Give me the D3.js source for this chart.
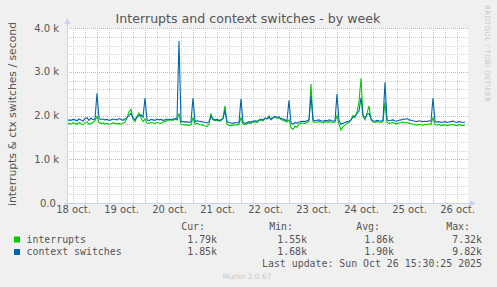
<!DOCTYPE html>
<html>
<head>
<meta charset="utf-8">
<script src="https://cdn.jsdelivr.net/npm/d3@7"></script>
<style>
  html, body { margin: 0; padding: 0; background: #f0f0f0; }
  svg { display: block; }
</style>
</head>
<body>
<div class="chartDiv"></div>
<script>
"use strict";

//
/* Data: */
//

// hourly samples, first one at 18 oct 09:00 (hours counted from 18 oct 00:00)
var startHour = 9;

var dayLabels = ["18 oct.", "19 oct.", "20 oct.", "21 oct.", "22 oct.", "23 oct.", "24 oct.", "25 oct.", "26 oct."];
var yTickValues = [0, 1000, 2000, 3000, 4000];
var yTickLabels = ["0.0\u00a0", "1.0 k", "2.0 k", "3.0 k", "4.0 k"];

// interrupts, in thousands / second
var interrupts = [
    1.81,1.82,1.80,1.83,1.82,1.80,1.84,1.81,1.79,1.83,1.86,1.80,1.82,1.84,1.88,
    1.98,
    1.84,1.82,1.83,1.81,1.82,1.80,1.81,1.83,1.82,1.81,1.82,1.80,1.82,1.85,1.95,
    2.08,2.14,1.92,1.86,1.98,2.06,1.95,1.86,
    1.92,
    1.83,1.82,1.84,1.83,1.82,1.84,1.83,1.82,1.85,1.86,1.88,1.90,1.91,1.89,1.92,1.90,
    2.05,
    1.80,1.79,1.78,1.79,1.77,1.79,
    1.95,
    1.80,1.82,1.80,1.79,1.78,1.76,1.75,1.80,
    2.05,1.90,1.88,1.89,1.87,1.88,1.95,
    2.22,
    1.80,1.78,1.77,1.78,1.79,1.78,1.80,
    1.95,
    1.80,1.79,1.81,1.83,1.82,1.85,1.86,1.84,1.88,
    1.90,1.88,1.93,1.92,1.99,1.90,1.94,1.97,1.93,1.95,1.91,1.89,1.87,1.85,
    1.90,
    1.72,1.68,1.76,1.73,1.80,1.82,1.83,1.82,1.84,1.87,
    2.72,
    1.86,1.84,1.85,1.86,1.85,1.83,1.86,1.85,1.86,1.85,1.84,1.85,
    2.00,
    1.80,1.67,1.74,1.78,1.82,1.84,1.90,2.00,1.95,2.09,2.30,
    2.85,
    1.98,1.90,2.05,2.22,1.90,
    1.85,1.84,1.86,1.85,1.84,1.86,
    2.30,
    1.84,1.82,1.83,1.84,1.82,1.81,1.83,1.84,1.85,1.83,1.84,1.82,1.81,1.80,1.79,1.78,1.80,1.79,1.78,1.80,1.79,1.81,1.80,
    1.95,
    1.79,1.78,1.80,1.77,1.78,1.79,1.77,1.78,1.79,1.80,1.78,1.77,1.79,1.78,1.77,1.79
];

// context switches, in thousands / second
var contextSwitches = [
    1.88,1.90,1.89,1.91,1.90,1.88,1.92,1.90,1.87,1.93,1.95,1.89,1.94,1.90,1.92,
    2.51,
    1.93,1.91,1.92,1.90,1.91,1.89,1.90,1.92,1.91,1.90,1.93,1.91,1.89,1.92,1.95,
    2.00,2.05,1.95,1.90,1.96,2.00,2.02,1.96,
    2.40,
    1.90,1.88,1.91,1.90,1.89,1.92,1.90,1.91,1.89,1.90,1.92,1.91,1.90,1.92,1.93,1.91,
    3.70,
    1.87,1.86,1.85,1.86,1.84,1.86,
    2.40,
    1.86,1.88,1.87,1.86,1.85,1.84,1.83,1.86,
    1.98,1.92,1.90,1.91,1.89,1.90,1.93,
    2.12,
    1.86,1.84,1.83,1.82,1.84,1.83,1.85,
    2.38,
    1.84,1.82,1.84,1.86,1.85,1.87,1.88,1.87,1.90,
    1.92,1.90,1.94,1.93,1.96,1.92,1.95,1.98,1.96,1.97,1.93,1.92,1.90,1.88,
    2.35,
    1.83,1.80,1.84,1.82,1.85,1.86,1.87,1.86,1.88,1.90,
    2.45,
    1.90,1.88,1.89,1.90,1.88,1.87,1.89,1.88,1.90,1.89,1.87,1.88,
    2.49,
    1.88,1.80,1.82,1.84,1.86,1.87,1.90,1.96,1.99,2.04,2.10,
    2.41,
    2.00,1.95,2.02,2.05,1.93,
    1.88,1.87,1.89,1.88,1.87,1.89,
    2.76,
    1.90,1.88,1.89,1.90,1.88,1.87,1.89,1.90,1.92,1.91,1.93,1.90,1.89,1.88,1.87,1.86,1.88,1.87,1.86,1.87,1.86,1.88,1.87,
    2.40,
    1.86,1.85,1.86,1.84,1.85,1.86,1.84,1.85,1.86,1.87,1.85,1.84,1.86,1.85,1.84,1.85
];

// legend rows
var legendNames = ["interrupts", "context switches"];
var legendColors = ["#00cc00", "#0066b3"];
var legendCur = ["1.79k", "1.85k"];
var legendMin = ["1.55k", "1.68k"];
var legendAvg = ["1.86k", "1.90k"];
var legendMax = ["7.32k", "9.82k"];


//
/* Chart: */
//

var width = 497;
var height = 287;

var plot = { left: 67, right: 468, top: 28, bottom: 203 };

var xScale = d3.scaleLinear()
        .domain([startHour, startHour + 200.5])
        .range([plot.left, plot.right]);

var yScale = d3.scaleLinear()
        .domain([0, 4000])
        .range([plot.bottom, plot.top]);

var svg = d3.select(".chartDiv").append("svg")
        .attr("width", width)
        .attr("height", height)
        .style("font-family", "'DejaVu Sans', sans-serif");

svg.append("rect")
    .attr("width", width)
    .attr("height", height)
    .attr("fill", "#f0f0f0");

// canvas
svg.append("rect")
    .attr("x", plot.left)
    .attr("y", plot.top)
    .attr("width", plot.right - plot.left)
    .attr("height", plot.bottom - plot.top)
    .attr("fill", "#ffffff");

// grid
var hourEnd = xScale.domain()[1];
var minorX = d3.range(12, hourEnd, 6).filter(function(h) { return h % 24 != 0; });
var majorX = d3.range(24, hourEnd, 24);
var minorY = d3.range(200, 4001, 200).filter(function(v) { return v % 1000 != 0; });

var grid = svg.append("g").attr("class", "grid").attr("shape-rendering", "crispEdges");

grid.selectAll(".minorX").data(minorX).enter()
    .append("line")
    .attr("x1", function(d) { return Math.round(xScale(d)) + 0.5; })
    .attr("x2", function(d) { return Math.round(xScale(d)) + 0.5; })
    .attr("y1", plot.top)
    .attr("y2", plot.bottom)
    .attr("stroke", "#cfcfcf")
    .attr("stroke-dasharray", "1,1");

grid.selectAll(".minorY").data(minorY).enter()
    .append("line")
    .attr("x1", plot.left)
    .attr("x2", plot.right)
    .attr("y1", function(d) { return Math.round(yScale(d)) + 0.5; })
    .attr("y2", function(d) { return Math.round(yScale(d)) + 0.5; })
    .attr("stroke", "#cfcfcf")
    .attr("stroke-dasharray", "1,1");

grid.selectAll(".majorX").data(majorX).enter()
    .append("line")
    .attr("x1", function(d) { return Math.round(xScale(d)) + 0.5; })
    .attr("x2", function(d) { return Math.round(xScale(d)) + 0.5; })
    .attr("y1", plot.top)
    .attr("y2", plot.bottom)
    .attr("stroke", "#e8a8a8")
    .attr("stroke-dasharray", "1,1");

grid.selectAll(".majorY").data(yTickValues.slice(1)).enter()
    .append("line")
    .attr("x1", plot.left)
    .attr("x2", plot.right)
    .attr("y1", function(d) { return Math.round(yScale(d)) + 0.5; })
    .attr("y2", function(d) { return Math.round(yScale(d)) + 0.5; })
    .attr("stroke", "#e8a8a8")
    .attr("stroke-dasharray", "1,1");

// series
var line = d3.line()
        .x(function(d, i) { return xScale(startHour + i); })
        .y(function(d) { return yScale(d * 1000); });

svg.append("path")
    .datum(interrupts)
    .attr("d", line)
    .attr("fill", "none")
    .attr("stroke", legendColors[0])
    .attr("stroke-width", 1.1);

svg.append("path")
    .datum(contextSwitches)
    .attr("d", line)
    .attr("fill", "none")
    .attr("stroke", legendColors[1])
    .attr("stroke-width", 1.1);

// axis lines + arrows
var axisColor = "#c8d0f4";
svg.append("line")
    .attr("x1", plot.left + 0.5).attr("x2", plot.left + 0.5)
    .attr("y1", plot.bottom + 3).attr("y2", plot.top - 4)
    .attr("stroke", axisColor);
svg.append("line")
    .attr("x1", plot.left - 3).attr("x2", plot.right + 2)
    .attr("y1", plot.bottom + 0.5).attr("y2", plot.bottom + 0.5)
    .attr("stroke", axisColor);
svg.append("path")
    .attr("d", "M" + (plot.left - 2.5) + "," + (plot.top - 4) + "L" + (plot.left + 3.5) + "," + (plot.top - 4) + "L" + (plot.left + 0.5) + "," + (plot.top - 10) + "Z")
    .attr("fill", axisColor);
svg.append("path")
    .attr("d", "M" + (plot.right + 2) + "," + (plot.bottom - 2.5) + "L" + (plot.right + 2) + "," + (plot.bottom + 3.5) + "L" + (plot.right + 8) + "," + (plot.bottom + 0.5) + "Z")
    .attr("fill", axisColor);

// y axis labels
var yAxis = d3.axisLeft(yScale)
        .tickValues(yTickValues)
        .tickFormat(function(d, i) { return yTickLabels[i]; })
        .tickSize(0)
        .tickPadding(0);

var yAxisG = svg.append("g")
        .attr("transform", "translate(" + 59 + ",0)")
        .call(yAxis);
yAxisG.select(".domain").remove();
yAxisG.selectAll("text")
    .attr("fill", "#555555")
    .style("font-size", "10px")
    .style("font-family", "'DejaVu Sans', sans-serif");

// x axis labels (centred at noon)
var xAxis = d3.axisBottom(xScale)
        .tickValues(dayLabels.map(function(d, i) { return 12 + 24 * i; }))
        .tickFormat(function(d, i) { return dayLabels[i]; })
        .tickSize(0)
        .tickPadding(0);

var xAxisG = svg.append("g")
        .attr("transform", "translate(0," + 206 + ")")
        .call(xAxis);
xAxisG.select(".domain").remove();
xAxisG.selectAll("text")
    .attr("fill", "#555555")
    .style("font-size", "10px")
    .style("font-family", "'DejaVu Sans', sans-serif");

// title
svg.append("text")
    .attr("x", 248)
    .attr("y", 23)
    .attr("text-anchor", "middle")
    .attr("fill", "#555555")
    .style("font-size", "12.6px")
    .text("Interrupts and context switches - by week");

// y axis title
svg.append("text")
    .attr("transform", "translate(15.5,114) rotate(-90)")
    .attr("text-anchor", "middle")
    .attr("fill", "#555555")
    .style("font-size", "10.8px")
    .text("interrupts & ctx switches / second");

// rrdtool credit
svg.append("text")
    .attr("transform", "translate(485,5) rotate(90)")
    .attr("fill", "#c8c8c8")
    .attr("textLength", 97)
    .style("font-size", "7px")
    .text("RRDTOOL / TOBI OETIKER");

// legend
var mono = "'DejaVu Sans Mono', monospace";
var legend = svg.append("g")
        .style("font-family", mono)
        .style("font-size", "9.9px")
        .attr("fill", "#555555");

var colRight = [205, 293, 380, 470];
var valRight = [217, 307, 394, 482];
var headers = ["Cur:", "Min:", "Avg:", "Max:"];
var columns = [legendCur, legendMin, legendAvg, legendMax];

legend.selectAll(".header").data(headers).enter()
    .append("text")
    .attr("x", function(d, i) { return colRight[i]; })
    .attr("y", 230)
    .attr("text-anchor", "end")
    .text(function(d) { return d; });

legendNames.forEach(function(name, r)
{
    var rowY = 242.5 + r * 12.5;

    legend.append("rect")
        .attr("x", 14)
        .attr("y", rowY - 6)
        .attr("width", 6)
        .attr("height", 6)
        .attr("fill", legendColors[r]);

    legend.append("text")
        .attr("x", 26.5)
        .attr("y", rowY)
        .text(name);

    columns.forEach(function(col, c)
    {
        legend.append("text")
            .attr("x", valRight[c])
            .attr("y", rowY)
            .attr("text-anchor", "end")
            .text(col[r]);
    });
});

legend.append("text")
    .attr("x", 482)
    .attr("y", 267)
    .attr("text-anchor", "end")
    .text("Last update: Sun Oct 26 15:30:25 2025");

svg.append("text")
    .attr("x", 247)
    .attr("y", 279)
    .attr("text-anchor", "middle")
    .attr("fill", "#c8c8c8")
    .style("font-size", "7.5px")
    .text("Munin 2.0.67");
</script>
</body>
</html>
